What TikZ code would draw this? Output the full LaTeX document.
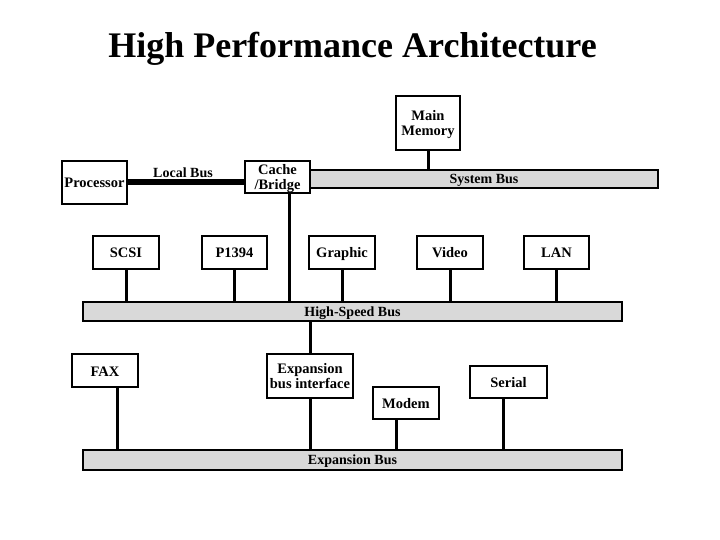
\documentclass[tikz,border=0pt]{standalone}
\usepackage{fontspec}
\setmainfont{Liberation Serif}
\begin{document}
\begin{tikzpicture}[x=1pt,y=-1pt,
  box/.style={draw, line width=2pt, fill=white, inner sep=0pt, align=center,
    font=\fontsize{14.5}{14.5}\selectfont\bfseries},
  one/.style={text height=11.5pt, text depth=0.5pt},
  bus/.style={draw, line width=2.2pt, fill=black!15, inner sep=0pt,
    text height=10.6pt, text depth=1pt,
    font=\fontsize{14}{14}\selectfont\bfseries},
  conn/.style={line width=3pt},
  lbl/.style={inner sep=0pt, font=\fontsize{14}{14}\selectfont\bfseries}]
\useasboundingbox (0,0) rectangle (720,540);
% title
\node[inner sep=0pt, anchor=base, font=\fontsize{36}{40}\selectfont\bfseries] (title) at (352.5,58) {High Performance Architecture};
% top level
\node[box, text depth=-2.5pt, font=\fontsize{14.5}{15}\selectfont\bfseries, minimum width=64pt, minimum height=54pt] (mem) at (428,123) {Main\\Memory};
\node[box, one, minimum width=65pt, minimum height=43pt] (proc) at (94.5,182.5) {Processor};
\node[box, text depth=0pt, minimum width=65pt, minimum height=32pt] (cache) at (277.5,177) {Cache\\/Bridge};
\node[bus, minimum width=348pt, minimum height=18pt] (sysbus) at (484,179) {System Bus};
\draw[line width=6pt] (proc.east) -- (proc.east -| cache.west);
\node[lbl] (localbus) at (183,173) {Local Bus};
\draw[conn] (mem.south) -- (mem.south |- sysbus.north);
% high-speed bus
\node[bus, minimum width=539pt, minimum height=19pt] (hsbus) at (352.5,311.5) {High-Speed Bus};
\node[box, one, minimum width=66pt, minimum height=33pt] (scsi) at (126,252.5) {SCSI};
\node[box, one, minimum width=65pt, minimum height=33pt] (p1394) at (234.5,252.5) {P1394};
\node[box, one, minimum width=66pt, minimum height=33pt] (graphic) at (342,252.5) {Graphic};
\node[box, one, minimum width=66pt, minimum height=33pt] (video) at (450,252.5) {Video};
\node[box, one, minimum width=65pt, minimum height=33pt] (lan) at (556.5,252.5) {LAN};
\coordinate (cachedown) at ([xshift=11.5pt]cache.south);
\draw[conn] (cachedown) -- (cachedown |- hsbus.north);
\foreach \n in {scsi,p1394,graphic,video,lan}
  \draw[conn] (\n.south) -- (\n.south |- hsbus.north);
% expansion bus
\node[bus, minimum width=539pt, minimum height=20pt] (expbus) at (352.5,460) {Expansion Bus};
\node[box, one, minimum width=66pt, minimum height=33pt] (fax) at (105,370.5) {FAX};
\node[box, text depth=-5pt, minimum width=86pt, minimum height=44pt] (ebi) at (310,376) {Expansion\\bus interface};
\node[box, one, minimum width=66pt, minimum height=32pt] (modem) at (406,403) {Modem};
\node[box, one, minimum width=77pt, minimum height=32pt] (serial) at (508.5,382) {Serial};
\draw[conn] (ebi.north) -- (ebi.north |- hsbus.south);
\draw[conn] (ebi.south) -- (ebi.south |- expbus.north);
\coordinate (faxdown) at ([xshift=12pt]fax.south);
\draw[conn] (faxdown) -- (faxdown |- expbus.north);
\coordinate (modemdown) at ([xshift=-10pt]modem.south);
\draw[conn] (modemdown) -- (modemdown |- expbus.north);
\coordinate (serialdown) at ([xshift=-5.5pt]serial.south);
\draw[conn] (serialdown) -- (serialdown |- expbus.north);
\end{tikzpicture}
\end{document}
